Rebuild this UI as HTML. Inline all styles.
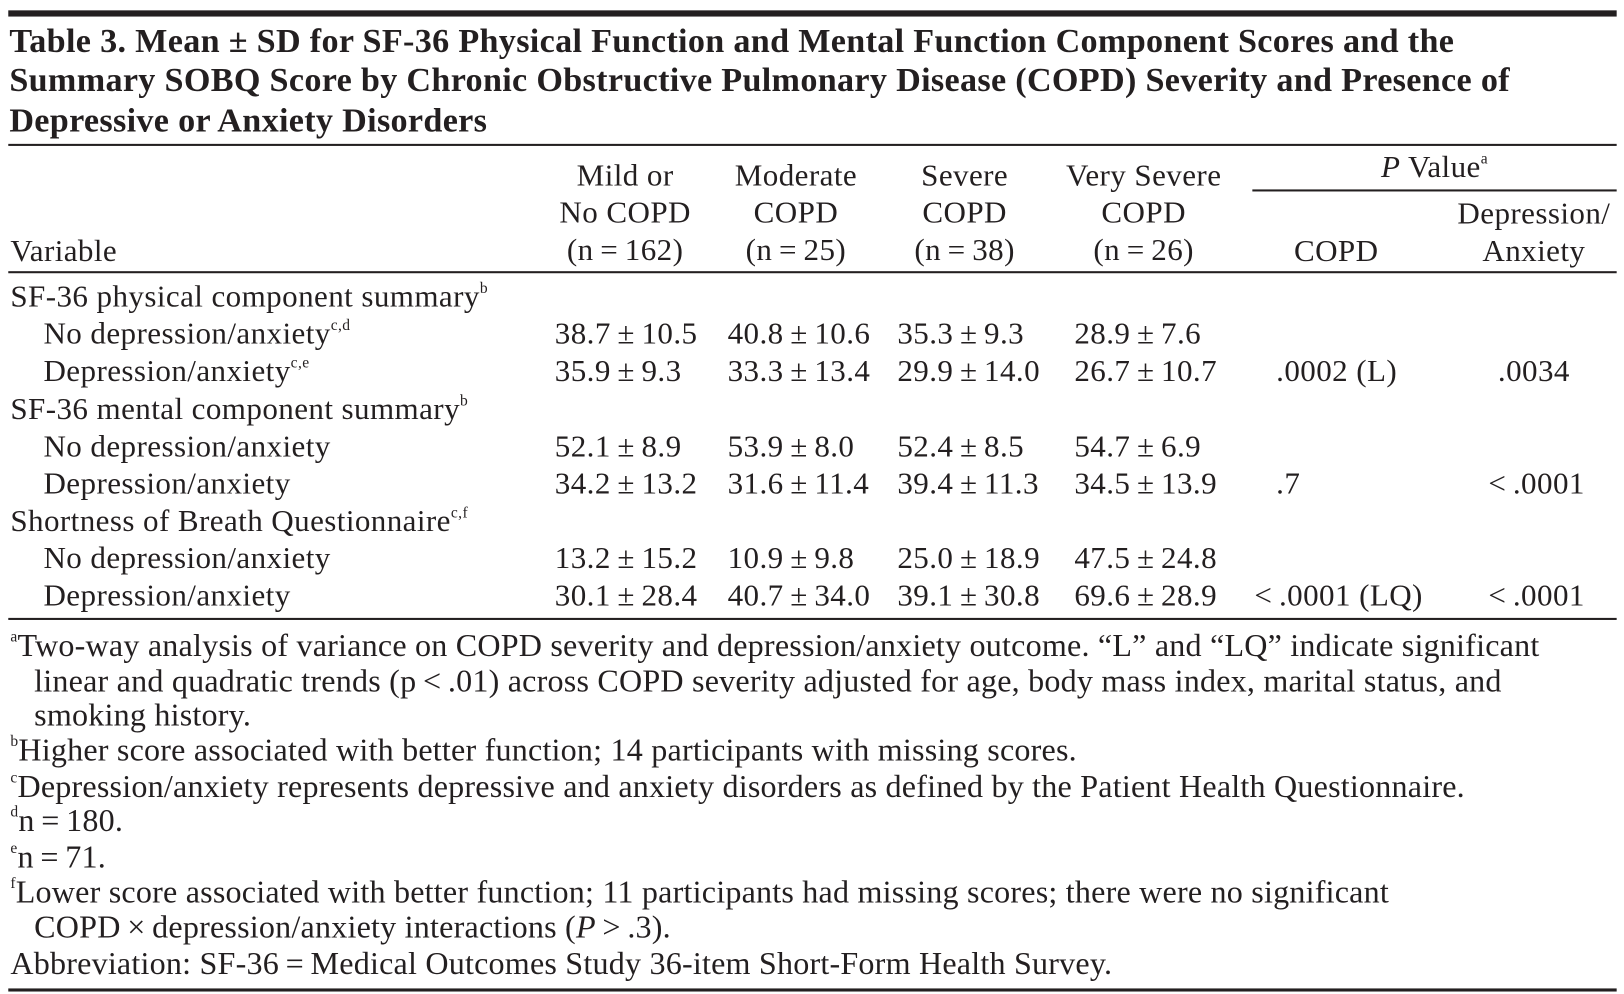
<!DOCTYPE html>
<html><head><meta charset="utf-8"><style>
html,body{margin:0;padding:0;background:#fff;width:1624px;height:993px;overflow:hidden}
#w{position:absolute;left:0;top:0;width:1569px;height:960px;transform:scale(1.035);transform-origin:0 0;font-family:"Liberation Serif",serif;color:#231f20}
.t{position:absolute;white-space:nowrap;font-size:30px;line-height:36px;letter-spacing:0.4px}
.c{transform:translateX(-50%);text-align:center}
.r{position:absolute;background:#231f20}
.ti{font-size:33px;font-weight:bold;letter-spacing:0.3px}
sup{font-size:15px;vertical-align:top;line-height:20px}
.f{font-size:31px;letter-spacing:0.2px}
</style></head><body>
<div id="w">
<div class="r" style="left:8px;top:10px;width:1554px;height:6px"></div>
<div class="t ti" style="left:9px;top:22px">Table 3. Mean ± SD for SF-36 Physical Function and Mental Function Component Scores and the</div>
<div class="t ti" style="left:9px;top:60px">Summary SOBQ Score by Chronic Obstructive Pulmonary Disease (COPD) Severity and Presence of</div>
<div class="t ti" style="left:9px;top:99px">Depressive or Anxiety Disorders</div>
<div class="r" style="left:8px;top:139px;width:1554px;height:2px"></div>

<div class="t c" style="left:1386px;top:144px"><i>P</i> Value<sup>a</sup></div>
<div class="r" style="left:1210px;top:183px;width:352px;height:2px"></div>

<div class="t" style="left:10px;top:225px">Variable</div>
<div class="t c" style="left:604px;top:152px">Mild or<br>No COPD<br>(n&#8201;=&#8201;162)</div>
<div class="t c" style="left:769px;top:152px">Moderate<br>COPD<br>(n&#8201;=&#8201;25)</div>
<div class="t c" style="left:932px;top:152px">Severe<br>COPD<br>(n&#8201;=&#8201;38)</div>
<div class="t c" style="left:1105px;top:152px">Very Severe<br>COPD<br>(n&#8201;=&#8201;26)</div>
<div class="t c" style="left:1291px;top:225px">COPD</div>
<div class="t c" style="left:1482px;top:189px">Depression/<br>Anxiety</div>
<div class="r" style="left:8px;top:262px;width:1554px;height:2px"></div>

<div class="t" style="left:10px;top:269px">SF-36 physical component summary<sup>b</sup></div>
<div class="t" style="left:42px;top:305px">No depression/anxiety<sup>c,d</sup></div>
<div class="t" style="left:536px;top:305px">38.7&#8201;±&#8201;10.5</div>
<div class="t" style="left:703px;top:305px">40.8&#8201;±&#8201;10.6</div>
<div class="t" style="left:867px;top:305px">35.3&#8201;±&#8201;9.3</div>
<div class="t" style="left:1038px;top:305px">28.9&#8201;±&#8201;7.6</div>
<div class="t" style="left:42px;top:341px">Depression/anxiety<sup>c,e</sup></div>
<div class="t" style="left:536px;top:341px">35.9&#8201;±&#8201;9.3</div>
<div class="t" style="left:703px;top:341px">33.3&#8201;±&#8201;13.4</div>
<div class="t" style="left:867px;top:341px">29.9&#8201;±&#8201;14.0</div>
<div class="t" style="left:1038px;top:341px">26.7&#8201;±&#8201;10.7</div>
<div class="t" style="left:1233px;top:341px">.0002 (L)</div>
<div class="t c" style="left:1482px;top:341px">.0034</div>

<div class="t" style="left:10px;top:378px">SF-36 mental component summary<sup>b</sup></div>
<div class="t" style="left:42px;top:414px">No depression/anxiety</div>
<div class="t" style="left:536px;top:414px">52.1&#8201;±&#8201;8.9</div>
<div class="t" style="left:703px;top:414px">53.9&#8201;±&#8201;8.0</div>
<div class="t" style="left:867px;top:414px">52.4&#8201;±&#8201;8.5</div>
<div class="t" style="left:1038px;top:414px">54.7&#8201;±&#8201;6.9</div>
<div class="t" style="left:42px;top:450px">Depression/anxiety</div>
<div class="t" style="left:536px;top:450px">34.2&#8201;±&#8201;13.2</div>
<div class="t" style="left:703px;top:450px">31.6&#8201;±&#8201;11.4</div>
<div class="t" style="left:867px;top:450px">39.4&#8201;±&#8201;11.3</div>
<div class="t" style="left:1038px;top:450px">34.5&#8201;±&#8201;13.9</div>
<div class="t" style="left:1233px;top:450px">.7</div>
<div class="t" style="left:1438px;top:450px">&lt;&#8201;.0001</div>

<div class="t" style="left:10px;top:486px">Shortness of Breath Questionnaire<sup>c,f</sup></div>
<div class="t" style="left:42px;top:522px">No depression/anxiety</div>
<div class="t" style="left:536px;top:522px">13.2&#8201;±&#8201;15.2</div>
<div class="t" style="left:703px;top:522px">10.9&#8201;±&#8201;9.8</div>
<div class="t" style="left:867px;top:522px">25.0&#8201;±&#8201;18.9</div>
<div class="t" style="left:1038px;top:522px">47.5&#8201;±&#8201;24.8</div>
<div class="t" style="left:42px;top:558px">Depression/anxiety</div>
<div class="t" style="left:536px;top:558px">30.1&#8201;±&#8201;28.4</div>
<div class="t" style="left:703px;top:558px">40.7&#8201;±&#8201;34.0</div>
<div class="t" style="left:867px;top:558px">39.1&#8201;±&#8201;30.8</div>
<div class="t" style="left:1038px;top:558px">69.6&#8201;±&#8201;28.9</div>
<div class="t" style="left:1212px;top:558px">&lt;&#8201;.0001 (LQ)</div>
<div class="t" style="left:1438px;top:558px">&lt;&#8201;.0001</div>
<div class="r" style="left:8px;top:597px;width:1554px;height:2px"></div>

<div class="t f" style="left:10px;top:606px"><sup>a</sup>Two-way analysis of variance on COPD severity and depression/anxiety outcome. “L” and “LQ” indicate significant</div>
<div class="t f" style="left:33px;top:640px">linear and quadratic trends (p&#8201;&lt;&#8201;.01) across COPD severity adjusted for age, body mass index, marital status, and</div>
<div class="t f" style="left:33px;top:673px">smoking history.</div>
<div class="t f" style="left:10px;top:707px"><sup>b</sup>Higher score associated with better function; 14 participants with missing scores.</div>
<div class="t f" style="left:10px;top:742px"><sup>c</sup>Depression/anxiety represents depressive and anxiety disorders as defined by the Patient Health Questionnaire.</div>
<div class="t f" style="left:10px;top:775px"><sup>d</sup>n&#8201;=&#8201;180.</div>
<div class="t f" style="left:10px;top:810px"><sup>e</sup>n&#8201;=&#8201;71.</div>
<div class="t f" style="left:10px;top:844px"><sup>f</sup>Lower score associated with better function; 11 participants had missing scores; there were no significant</div>
<div class="t f" style="left:33px;top:878px">COPD&#8201;×&#8201;depression/anxiety interactions (<i>P</i>&#8201;&gt;&#8201;.3).</div>
<div class="t f" style="left:10px;top:913px">Abbreviation: SF-36&#8201;=&#8201;Medical Outcomes Study 36-item Short-Form Health Survey.</div>
<div class="r" style="left:8px;top:955px;width:1554px;height:3px"></div>
</div>
</body></html>
